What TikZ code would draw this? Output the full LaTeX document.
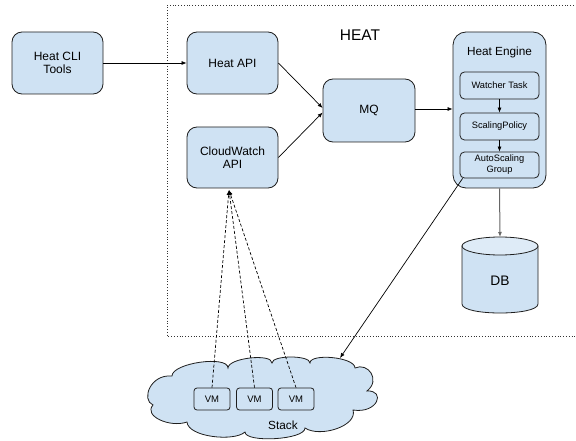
\documentclass[tikz,border=0pt]{standalone}
\usepackage{fontspec}
\setmainfont{Liberation Sans}
\usetikzlibrary{arrows.meta,calc}
\definecolor{boxblue}{RGB}{207,226,243}
\definecolor{toplight}{RGB}{222,235,247}
\definecolor{edge}{RGB}{30,30,30}
\tikzset{
  box/.style={draw=edge, fill=boxblue, line width=0.8pt, rounded corners=10pt, align=center, inner sep=0pt, font=\fontsize{12}{13.5}\selectfont},
  sbox/.style={draw=edge, fill=boxblue, line width=0.8pt, rounded corners=4.5pt, align=center, inner sep=0pt, font=\fontsize{9.3}{11}\selectfont},
  vmbox/.style={draw=edge, fill=boxblue, line width=0.8pt, rounded corners=3pt, inner sep=0pt, minimum width=36pt, minimum height=22pt, font=\fontsize{9.5}{10}\selectfont},
  conn/.style={line width=0.7pt, draw=black, -{Latex[length=5pt,width=4pt]}},
  dconn/.style={conn, dash pattern=on 3pt off 2pt},
}
\begin{document}
\begin{tikzpicture}[x=1pt,y=-1pt]
\useasboundingbox (0,0) rectangle (576,441);
% HEAT boundary
\draw[line width=0.7pt, black!80, dash pattern=on 0.8pt off 2pt] (585,5) -- (167,5) -- (167,336) -- (585,336);
\node[font=\fontsize{15.5}{16}\selectfont] (heat) at (360,35) {HEAT};

\node[box, minimum width=91pt, minimum height=62pt] (cli) at (57.5,63) {Heat CLI\\Tools};
\node[box, minimum width=91pt, minimum height=62pt] (api) at (232.5,63) {Heat API};
\node[box, minimum width=91pt, minimum height=61pt] (cw) at (232.5,157.5) {CloudWatch\\API};
\node[box, minimum width=92pt, minimum height=63pt] (mq) at (369,110.5) {MQ};

\node[box, rounded corners=13pt, minimum width=93pt, minimum height=156pt] (engine) at (499.5,110) {};
\node[font=\fontsize{11.8}{13}\selectfont] (enginelabel) at (499.5,52) {Heat Engine};
\node[sbox, minimum width=79pt, minimum height=27pt] (watcher) at (499.5,85.5) {Watcher Task};
\node[sbox, minimum width=79pt, minimum height=27pt] (policy) at (499.5,126.5) {ScalingPolicy};
\node[sbox, minimum width=79pt, minimum height=26pt] (asg) at (499.5,165) {AutoScaling\\Group};

% DB cylinder
\draw[draw=edge, fill=boxblue, line width=0.8pt] (462,246) -- (462,304) .. controls (462,316) and (538,316) .. (538,304) -- (538,246) -- cycle;
\draw[draw=edge, fill=toplight, line width=0.8pt] (500,246) ellipse [x radius=38, y radius=9];
\coordinate (dbtop) at (500,237);
\node[font=\fontsize{13.8}{14}\selectfont] (db) at (500,281) {DB};

% Stack cloud
\draw[draw=edge, fill=boxblue, line width=0.8pt]
  (153,405) .. controls (141,400) and (150,374) .. (172,376)
  .. controls (172,363) and (228,355) .. (228,368)
  .. controls (228,358) and (272,353) .. (272,363)
  .. controls (272,355) and (310,355) .. (310,363)
  .. controls (310,353) and (355,357) .. (355,368)
  .. controls (368,362) and (381,380) .. (367,391)
  .. controls (386,390) and (378,414) .. (353,410)
  .. controls (358,426) and (320,438) .. (305,428)
  .. controls (305,440) and (245,443) .. (245,432)
  .. controls (234,442) and (188,437) .. (187,422)
  .. controls (170,428) and (143,416) .. (153,405) -- cycle;
\node[font=\fontsize{11.8}{12}\selectfont] (stacklabel) at (283,425) {Stack};
\node[vmbox] (vm1) at (212,399) {VM};
\node[vmbox] (vm2) at (254.5,399) {VM};
\node[vmbox] (vm3) at (296,399) {VM};
\coordinate (stackin) at (340,358);
\coordinate (cwin) at (229,190);

% connectors
\draw[conn] (cli.east) -- (api.west);
\draw[conn] (api.east) -- ($(mq.west)+(0,-2.5)$);
\draw[conn] (cw.east) -- ($(mq.west)+(0,2)$);
\draw[conn] ($(mq.east)+(0,-1.5)$) -- ($(engine.west)+(0,-1)$);
\draw[conn] (watcher) -- (policy);
\draw[conn] (policy) -- (asg);
\draw[conn, draw=black!60, line width=1pt] (engine.south) -- (dbtop);
\draw[conn] ($(asg.south west)+(3,0)$) -- (stackin);
\draw[dconn] (vm1.north) -- (cwin);
\draw[dconn] (vm2.north) -- (cwin);
\draw[dconn] (vm3.north) -- (cwin);
\end{tikzpicture}
\end{document}
